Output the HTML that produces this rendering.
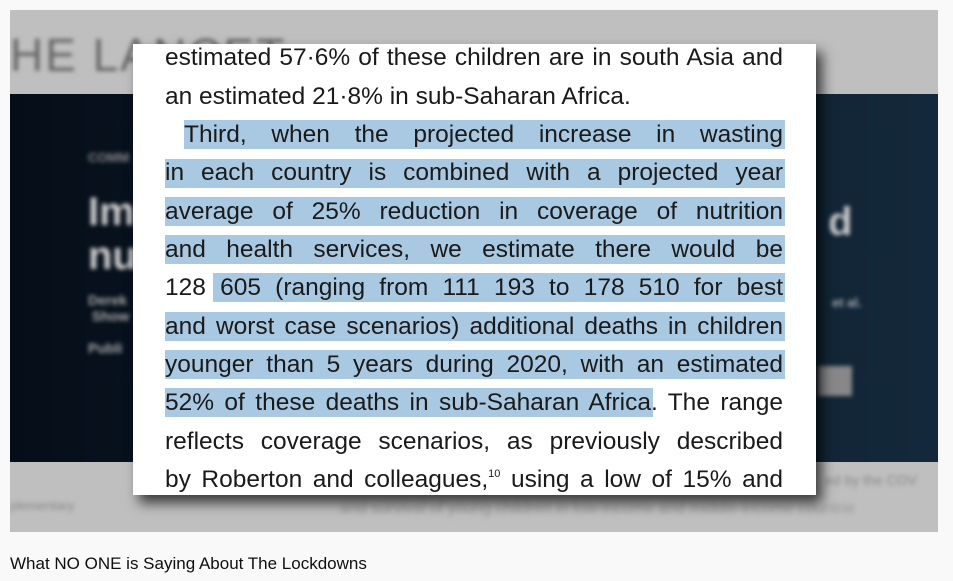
<!DOCTYPE html>
<html><head><meta charset="utf-8"><style>
body{margin:0;width:953px;height:581px;background:#f9f9f9;position:relative;overflow:hidden;font-family:"Liberation Sans",sans-serif}
.frame{position:absolute;left:10px;top:10px;width:928px;height:522px;background:#bfbfbf;overflow:hidden}
.band{position:absolute;left:0;top:84px;width:928px;height:368px;background:linear-gradient(90deg,#050d18,#0f1f2d 50%,#13283a)}
.blur{position:absolute;filter:blur(2px)}
.card{position:absolute;left:133px;top:44px;width:683px;height:451px;background:#fff;box-shadow:6px 8px 12px rgba(0,0,0,.7)}
.hl{position:absolute;background:#a9c9e2;height:29px}
.ln{position:absolute;left:165px;width:618px;font-size:24.5px;color:#1a1a1a;text-align:justify;text-align-last:justify;white-space:nowrap;line-height:30px}
sup{line-height:0;font-size:11px;vertical-align:10px}
.cap{position:absolute;left:10px;top:554px;font-size:17px;color:#0f0f0f}
</style></head><body>
<div class="frame">
<div class="blur" style="left:0;top:18px;font-size:46px;color:#666;letter-spacing:2px">HE LANCET</div>
<div class="band"></div>
<div class="blur" style="left:78px;top:140px;color:#888;font-size:13px;font-weight:bold">COMM</div>
<div class="blur" style="left:78px;top:180px;color:#ccc;font-size:40px;font-weight:bold;line-height:44px">Imp<br>nut</div>
<div class="blur" style="left:78px;top:282px;color:#aaa;font-size:14px;font-weight:bold">Derek<br>&nbsp;Show<br><br>Publi</div>
<div class="blur" style="left:818px;top:190px;color:#ccc;font-size:40px;font-weight:bold">d</div>
<div class="blur" style="left:822px;top:285px;color:#aaa;font-size:13px;font-weight:bold">et al.</div>
<div class="blur" style="left:808px;top:356px;width:34px;height:30px;background:#888"></div>
<div class="blur" style="left:0;top:488px;color:#888;font-size:13px">plementary</div>
<div class="blur" style="left:815px;top:462px;color:#888;font-size:14px">ed by the COV</div>
<div class="blur" style="left:330px;top:490px;color:#999;font-size:16px">and survival of young children in low-income and middle-income countrie</div>
</div>
<div class="card"></div>
<div class="hl" style="left:184px;top:120px;width:601px"></div>
<div class="hl" style="left:165px;top:159px;width:620px"></div>
<div class="hl" style="left:165px;top:197px;width:620px"></div>
<div class="hl" style="left:165px;top:235px;width:620px"></div>
<div class="hl" style="left:213px;top:273px;width:572px"></div>
<div class="hl" style="left:165px;top:312px;width:620px"></div>
<div class="hl" style="left:165px;top:350px;width:620px"></div>
<div class="hl" style="left:165px;top:388px;width:488px"></div>
<div class="ln" style="top:43px">estimated 57·6% of these children are in south Asia and</div>
<div class="ln" style="top:82px;text-align-last:left">an estimated 21·8% in sub-Saharan Africa.</div>
<div class="ln" style="top:120px;left:184px;width:599px">Third, when the projected increase in wasting</div>
<div class="ln" style="top:158px">in each country is combined with a projected year</div>
<div class="ln" style="top:197px">average of 25% reduction in coverage of nutrition</div>
<div class="ln" style="top:235px">and health services, we estimate there would be</div>
<div class="ln" style="top:273px">128 605 (ranging from 111 193 to 178 510 for best</div>
<div class="ln" style="top:312px">and worst case scenarios) additional deaths in children</div>
<div class="ln" style="top:350px">younger than 5 years during 2020, with an estimated</div>
<div class="ln" style="top:388px">52% of these deaths in sub-Saharan Africa. The range</div>
<div class="ln" style="top:427px">reflects coverage scenarios, as previously described</div>
<div class="ln" style="top:465px">by Roberton and colleagues,<sup>10</sup> using a low of 15% and</div>
<div class="cap">What NO ONE is Saying About The Lockdowns</div>
</body></html>
